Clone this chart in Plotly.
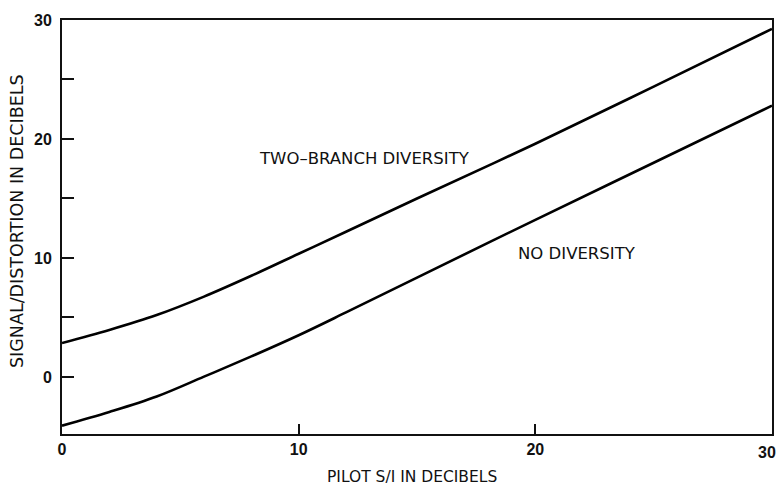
import plotly.graph_objects as go

pilot_si = [0, 2, 4, 6, 8, 10, 12, 15, 20, 25, 30]
two_branch = [2.85, 3.95, 5.2, 6.75, 8.5, 10.35, 12.2, 15.0, 19.6, 24.4, 29.25]
no_diversity = [-4.1, -2.95, -1.65, 0.02, 1.72, 3.5, 5.42, 8.35, 13.2, 18.0, 22.8]

y_tickvals = [0, 5, 10, 15, 20, 25, 30]
y_ticktext = ["0", "", "10", "", "20", "", "30"]
x_tickvals = [0, 10, 20, 30]
x_ticktext = ["0", "10", "20", "30"]

fig = go.Figure()
for series in (two_branch, no_diversity):
    fig.add_trace(go.Scatter(x=pilot_si, y=series, mode="lines",
                             line=dict(color="black", width=2.6, shape="spline", smoothing=1.0),
                             showlegend=False, hoverinfo="skip"))

label_font = "DejaVu Sans, Arial, sans-serif"
tick_font = "Liberation Sans, Arial, sans-serif"

# plot area at x 62..772, y 20..434 (page body margin removed by post_script)
W, H = 781, 485
ML, MR, MT, MB = 62, 9, 20, 51
plot_w = W - ML - MR
plot_h = H - MT - MB


def px_to_paper(px, py):
    return (px - ML) / plot_w, 1 - (py - MT) / plot_h


xt_x, xt_y = px_to_paper(412, 477)
yt_x, yt_y = px_to_paper(17, 221)
_, last_lab_y = px_to_paper(0, 452)

# last x tick label is drawn as an annotation so it stays inside the page
x_axis_labels = x_ticktext[:-1] + [""]

fig.update_layout(
    width=W, height=H,
    margin=dict(l=ML, r=MR, t=MT, b=MB),
    paper_bgcolor="white", plot_bgcolor="white",
    font=dict(family=label_font, color="#111"),
    xaxis=dict(range=[0, 30], tickvals=x_tickvals, ticktext=x_axis_labels,
               ticks="inside", ticklen=10, tickwidth=2, tickcolor="#111",
               showline=True, linecolor="#111", linewidth=2, mirror=True,
               showgrid=False, zeroline=False, automargin=False,
               ticklabeloverflow="allow",
               tickfont=dict(family=tick_font, size=16, weight="bold", color="#111")),
    yaxis=dict(range=[-4.8, 30], tickvals=y_tickvals, ticktext=y_ticktext,
               ticks="inside", ticklen=12, tickwidth=2, tickcolor="#111",
               showline=True, linecolor="#111", linewidth=2, mirror=True,
               showgrid=False, zeroline=False, automargin=False,
               ticklabelstandoff=5, ticklabeloverflow="allow",
               tickfont=dict(family=tick_font, size=16, weight="bold", color="#111")),
    annotations=[
        dict(text="TWO\u2013BRANCH DIVERSITY", x=12.8, y=18.4, xref="x", yref="y",
             xanchor="center", yanchor="middle",
             showarrow=False, font=dict(size=16.5, color="#111")),
        dict(text="NO DIVERSITY", x=21.76, y=10.4, xref="x", yref="y",
             xanchor="center", yanchor="middle",
             showarrow=False, font=dict(size=16.5, color="#111")),
        dict(text="PILOT S/I IN DECIBELS", x=xt_x, y=xt_y,
             xref="paper", yref="paper", xanchor="center", yanchor="middle",
             showarrow=False, font=dict(size=15.5, color="#111")),
        dict(text="SIGNAL/DISTORTION IN DECIBELS", x=yt_x, y=yt_y,
             xref="paper", yref="paper", xanchor="center", yanchor="middle",
             textangle=-90, showarrow=False, font=dict(size=17.5, color="#111")),
        dict(text="<b>%s</b>" % x_ticktext[-1], x=x_tickvals[-1], y=last_lab_y,
             xref="x", yref="paper", xanchor="right", yanchor="middle", xshift=6,
             showarrow=False, font=dict(family=tick_font, size=16, color="#111")),
    ],
)

fig.write_html(
    "out.html",
    config={"displayModeBar": False},
    post_script="document.body.style.margin='0';document.body.style.overflow='hidden';",
)
